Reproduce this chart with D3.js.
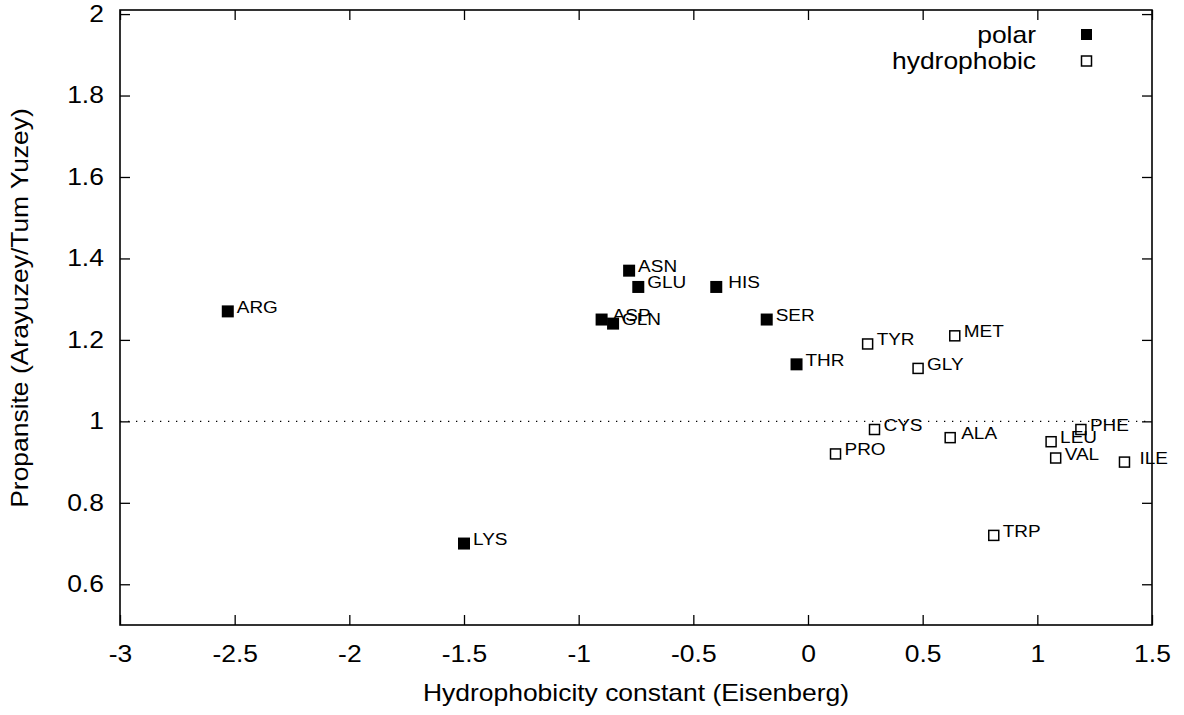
<!DOCTYPE html>
<html>
<head>
<meta charset="utf-8">
<script src="https://cdn.jsdelivr.net/npm/d3@7"></script>
<style>
  html, body { margin: 0; padding: 0; background: #fff; }
  svg { display: block; }
  text { font-family: "Liberation Sans", Arial, Helvetica, sans-serif; fill: #000; }
</style>
</head>
<body>
<svg id="chart" width="1184" height="715"></svg>
<script>
// ---- data ----
const polarNames = ["ARG", "LYS", "ASP", "GLU", "ASN", "GLN", "HIS", "SER", "THR"];
const polarX = [-2.53, -1.50, -0.90, -0.74, -0.78, -0.85, -0.40, -0.18, -0.05];
const polarY = [1.27, 0.70, 1.25, 1.33, 1.37, 1.24, 1.33, 1.25, 1.14];

const hydroNames = ["PRO", "TYR", "CYS", "GLY", "ALA", "MET", "TRP", "LEU", "VAL", "PHE", "ILE"];
const hydroX = [0.12, 0.26, 0.29, 0.48, 0.62, 0.64, 0.81, 1.06, 1.08, 1.19, 1.38];
const hydroY = [0.92, 1.19, 0.98, 1.13, 0.96, 1.21, 0.72, 0.95, 0.91, 0.98, 0.90];

const xTicks = [-3, -2.5, -2, -1.5, -1, -0.5, 0, 0.5, 1, 1.5];
const xTickLabels = ["-3", "-2.5", "-2", "-1.5", "-1", "-0.5", "0", "0.5", "1", "1.5"];
const yTicks = [0.6, 0.8, 1.0, 1.2, 1.4, 1.6, 1.8, 2.0];
const yTickLabels = ["0.6", "0.8", "1", "1.2", "1.4", "1.6", "1.8", "2"];

const legendLabels = ["polar", "hydrophobic"];
const xTitle = "Hydrophobicity constant (Eisenberg)";
const yTitle = "Propansite (Arayuzey/Tum Yuzey)";
const refLine = 1;

// ---- layout ----
const L = 120, R = 1152, T = 10, B = 625;
const SX = 1.15;          // horizontal widening of glyphs seen in reference
const FS = 23;            // main font size
const LFS = 16.5;         // point-label font size
const labelGap = 9;
const labelExtraGap = { HIS: 3, ASP: 2, ALA: 2, ILE: 6 };

const svg = d3.select("#chart");
const x = d3.scaleLinear().domain([-3, 1.5]).range([L, R]);
const y = d3.scaleLinear().domain([0.5, 2.01]).range([B, T]);

// axes
const fmtX = d => xTickLabels[xTicks.indexOf(d)];
const fmtY = d => yTickLabels[yTicks.findIndex(v => Math.abs(v - d) < 1e-9)];

const gB = svg.append("g").attr("transform", `translate(0,${B})`)
  .call(d3.axisBottom(x).tickValues(xTicks).tickFormat(fmtX).tickSizeInner(-10).tickSizeOuter(0).tickPadding(21));
const gL = svg.append("g").attr("transform", `translate(${L},0)`)
  .call(d3.axisLeft(y).tickValues(yTicks).tickFormat(fmtY).tickSizeInner(-10).tickSizeOuter(0).tickPadding(14));
const gT = svg.append("g").attr("transform", `translate(0,${T})`)
  .call(d3.axisTop(x).tickValues(xTicks).tickFormat("").tickSizeInner(-10).tickSizeOuter(0));
const gR = svg.append("g").attr("transform", `translate(${R},0)`)
  .call(d3.axisRight(y).tickValues(yTicks).tickFormat("").tickSizeInner(-10).tickSizeOuter(0));

[gB, gL, gT, gR].forEach(g => {
  g.select(".domain").remove();
  g.selectAll(".tick line").attr("stroke", "#000").attr("stroke-width", 1.3);
  g.selectAll(".tick text")
    .attr("font-size", FS)
    .attr("font-family", "Liberation Sans, Arial, sans-serif")
    .attr("fill", "#000")
    .attr("transform", `scale(${SX},1)`);
});

// frame
svg.append("rect")
  .attr("x", L).attr("y", T).attr("width", R - L).attr("height", B - T)
  .attr("fill", "none").attr("stroke", "#000").attr("stroke-width", 1.6);

// reference dotted line
svg.append("line")
  .attr("x1", L).attr("x2", R).attr("y1", y(refLine)).attr("y2", y(refLine))
  .attr("stroke", "#000").attr("stroke-width", 1.3).attr("stroke-dasharray", "1.3,6.7");

// data rows
const polar = polarNames.map((n, i) => ({ name: n, x: polarX[i], y: polarY[i] }));
const hydro = hydroNames.map((n, i) => ({ name: n, x: hydroX[i], y: hydroY[i] }));

const FSQ = 12, OSQ = 10;

svg.append("g").selectAll("rect").data(polar).join("rect")
  .attr("x", d => x(d.x) - FSQ / 2).attr("y", d => y(d.y) - FSQ / 2)
  .attr("width", FSQ).attr("height", FSQ).attr("fill", "#000");

svg.append("g").selectAll("rect").data(hydro).join("rect")
  .attr("x", d => x(d.x) - OSQ / 2).attr("y", d => y(d.y) - OSQ / 2)
  .attr("width", OSQ).attr("height", OSQ).attr("fill", "#fff")
  .attr("stroke", "#000").attr("stroke-width", 1.5);

// point labels
svg.append("g").selectAll("text").data(polar.concat(hydro)).join("text")
  .attr("transform", d => `translate(${x(d.x) + labelGap + (labelExtraGap[d.name] || 0)},${y(d.y) + 1.5}) scale(${SX},1)`)
  .attr("font-size", LFS)
  .text(d => d.name);

// legend
const legendY = [34.5, 61];
legendLabels.forEach((lab, i) => {
  svg.append("text")
    .attr("transform", `translate(1036,${legendY[i] + 8}) scale(${SX},1)`)
    .attr("text-anchor", "end").attr("font-size", FS).text(lab);
});
svg.append("rect").attr("x", 1086.5 - FSQ / 2 + 0.5).attr("y", legendY[0] - FSQ / 2 + 0.5)
  .attr("width", FSQ - 1).attr("height", FSQ - 1).attr("fill", "#000");
svg.append("rect").attr("x", 1086.5 - OSQ / 2).attr("y", legendY[1] - OSQ / 2)
  .attr("width", OSQ).attr("height", OSQ).attr("fill", "#fff")
  .attr("stroke", "#000").attr("stroke-width", 1.5);

// axis titles
svg.append("text")
  .attr("transform", `translate(${(L + R) / 2},701) scale(${SX},1)`)
  .attr("text-anchor", "middle").attr("font-size", FS).text(xTitle);
svg.append("text")
  .attr("transform", `translate(28,308) rotate(-90) scale(${SX},1)`)
  .attr("text-anchor", "middle").attr("font-size", FS).text(yTitle);
</script>
</body>
</html>
